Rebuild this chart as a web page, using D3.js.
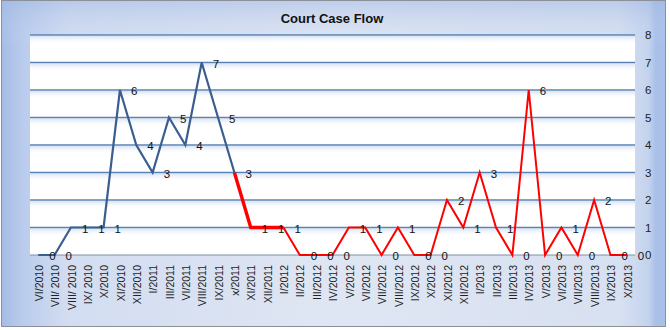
<!DOCTYPE html>
<html>
<head>
<meta charset="utf-8">
<script src="https://cdn.jsdelivr.net/npm/d3@7"></script>
<style>
  html, body { margin: 0; padding: 0; background: #ffffff; }
  svg { display: block; }
  text { font-family: "Liberation Sans", Arial, sans-serif; }
</style>
</head>
<body>
<svg id="chart" width="670" height="330"></svg>
<script>
// Month labels along the bottom axis
const months = [
  "VI/2010", "VII/ 2010", "VIII/ 2010", "IX/ 2010", "X/2010", "XI/2010", "XII/2010",
  "I/2011", "III/2011", "VI/2011", "VIII/2011", "IX/2011", "x/2011", "XI/2011", "XII/2011",
  "I/2012", "II/2012", "III/2012", "IV/2012", "V/2012", "VI/2012", "VII/2012", "VIII/2012",
  "IX/2012", "X/2012", "XI/2012", "XII/2012", "I/2013", "II/2013", "III/2013", "IV/2013",
  "V/2013", "VI/2013", "VII/2013", "VIII/2013", "IX/2013", "X/2013"
];

// First period (blue), starting at VI/2010
const bluePeriod = [0, 0, 1, 1, 1, 6, 4, 3, 5, 4, 7, 5, 3];

// Second period (red), starting at x/2011
const redStart = 12;
const redPeriod = [3, 1, 1, 1, 0, 0, 0, 1, 1, 0, 1, 0, 0, 2, 1, 3, 1, 0, 6, 0, 1, 0, 2, 0, 0];

// Number of red segments drawn heavier at the start of the red period
const heavySegments = 3;

const yTicks = [0, 1, 2, 3, 4, 5, 6, 7, 8];

const svg = d3.select("#chart");
const plot = { left: 30, right: 635, top: 35, bottom: 255 };

const defs = svg.append("defs");

// Chart background gradient
const bg = defs.append("linearGradient").attr("id", "bgGrad")
  .attr("x1", "0").attr("x2", "1").attr("y1", "0").attr("y2", "0");
[[0, "#a6bce6"], [0.03, "#b9cbec"], [0.1, "#d3ddf1"], [0.5, "#dfe6f3"],
 [0.93, "#d8e1f1"], [0.975, "#c3d3ee"], [0.985, "#a9c0e8"], [1, "#a9c0e8"]]
  .forEach(([o, c]) => bg.append("stop").attr("offset", o).attr("stop-color", c));

const bgV = defs.append("linearGradient").attr("id", "bgVGrad")
  .attr("x1", "0").attr("x2", "0").attr("y1", "0").attr("y2", "1");
[[0, "#9fb7e3", 0.5], [0.14, "#c8d6ef", 0.0], [1, "#ffffff", 0.0]]
  .forEach(([o, c, a]) => bgV.append("stop").attr("offset", o).attr("stop-color", c).attr("stop-opacity", a));

// Soft shading under each gridline
const sh = defs.append("linearGradient").attr("id", "gridShade")
  .attr("x1", "0").attr("x2", "0").attr("y1", "0").attr("y2", "1");
sh.append("stop").attr("offset", 0).attr("stop-color", "#d5e0f2").attr("stop-opacity", 0.9);
sh.append("stop").attr("offset", 1).attr("stop-color", "#ffffff").attr("stop-opacity", 0);

svg.append("rect").attr("x", 1.5).attr("y", 0.5).attr("width", 664).attr("height", 326)
  .attr("fill", "url(#bgGrad)").attr("stroke", "#8a8f98").attr("stroke-width", 1);
svg.append("rect").attr("x", 2).attr("y", 1).attr("width", 663).attr("height", 325)
  .attr("fill", "url(#bgVGrad)");

// Scales
const x = d3.scaleBand().domain(months).range([plot.left, plot.right]).padding(0);
const cx = i => x(months[i]) + x.bandwidth() / 2;
const y = d3.scaleLinear().domain([0, 8]).range([plot.bottom, plot.top]);

// Plot area
svg.append("rect")
  .attr("x", plot.left).attr("y", plot.top)
  .attr("width", plot.right - plot.left).attr("height", plot.bottom - plot.top)
  .attr("fill", "#ffffff");

// Gridlines with shading
const grid = svg.append("g");
yTicks.filter(t => t > 0).forEach(t => {
  grid.append("rect")
    .attr("x", plot.left).attr("y", y(t) + 1)
    .attr("width", plot.right - plot.left).attr("height", 8)
    .attr("fill", "url(#gridShade)");
});
yTicks.forEach(t => {
  grid.append("line")
    .attr("x1", plot.left).attr("x2", plot.right)
    .attr("y1", y(t)).attr("y2", y(t))
    .attr("stroke", t === 0 ? "#7f90a8" : "#5a83b5")
    .attr("stroke-width", t === 0 ? 1.2 : 1.6);
});

// Right value axis
const yAxis = d3.axisRight(y).tickValues(yTicks).tickSize(0).tickPadding(10);
const ya = svg.append("g").attr("transform", `translate(${plot.right},0)`).call(yAxis);
ya.select(".domain").remove();
ya.selectAll("text").attr("font-size", 11.5).attr("fill", "#222")
  .attr("font-family", "'Liberation Sans', Arial, sans-serif");

// Bottom month axis (rotated labels)
const xAxis = d3.axisBottom(x).tickSize(0).tickPadding(0);
const xa = svg.append("g").attr("transform", `translate(0,${plot.bottom})`).call(xAxis);
xa.select(".domain").remove();
xa.selectAll("text")
  .attr("font-size", 10.5).attr("fill", "#222")
  .attr("font-family", "'Liberation Sans', Arial, sans-serif")
  .attr("text-anchor", "end")
  .attr("transform", "rotate(-90)")
  .attr("x", -10).attr("y", 1).attr("dy", "0.35em");

// Lines
const line = d3.line().x(d => cx(d.i)).y(d => y(d.v));
const bluePts = bluePeriod.map((v, i) => ({ i, v }));
const redPts = redPeriod.map((v, k) => ({ i: redStart + k, v }));

svg.append("path").datum(bluePts).attr("d", line)
  .attr("fill", "none").attr("stroke", "#395e8f").attr("stroke-width", 2.2)
  .attr("stroke-linejoin", "miter");

svg.append("path").datum(redPts.slice(heavySegments)).attr("d", line)
  .attr("fill", "none").attr("stroke", "#ff0000").attr("stroke-width", 2)
  .attr("stroke-linejoin", "miter");
svg.append("path").datum(redPts.slice(0, heavySegments + 1)).attr("d", line)
  .attr("fill", "none").attr("stroke", "#ff0000").attr("stroke-width", 3.4)
  .attr("stroke-linejoin", "miter");

// Data labels, to the right of each point
const labels = bluePts.concat(redPts.slice(1));
svg.append("g").selectAll("text").data(labels).join("text")
  .attr("x", d => cx(d.i) + 11)
  .attr("y", d => y(d.v) + 1)
  .attr("dy", "0.35em")
  .attr("font-size", 11.5).attr("fill", "#111")
  .text(d => d.v);

// Title
svg.append("text")
  .attr("x", 332).attr("y", 23)
  .attr("text-anchor", "middle")
  .attr("font-size", 13).attr("font-weight", "bold").attr("fill", "#111")
  .text("Court Case Flow");
</script>
</body>
</html>
